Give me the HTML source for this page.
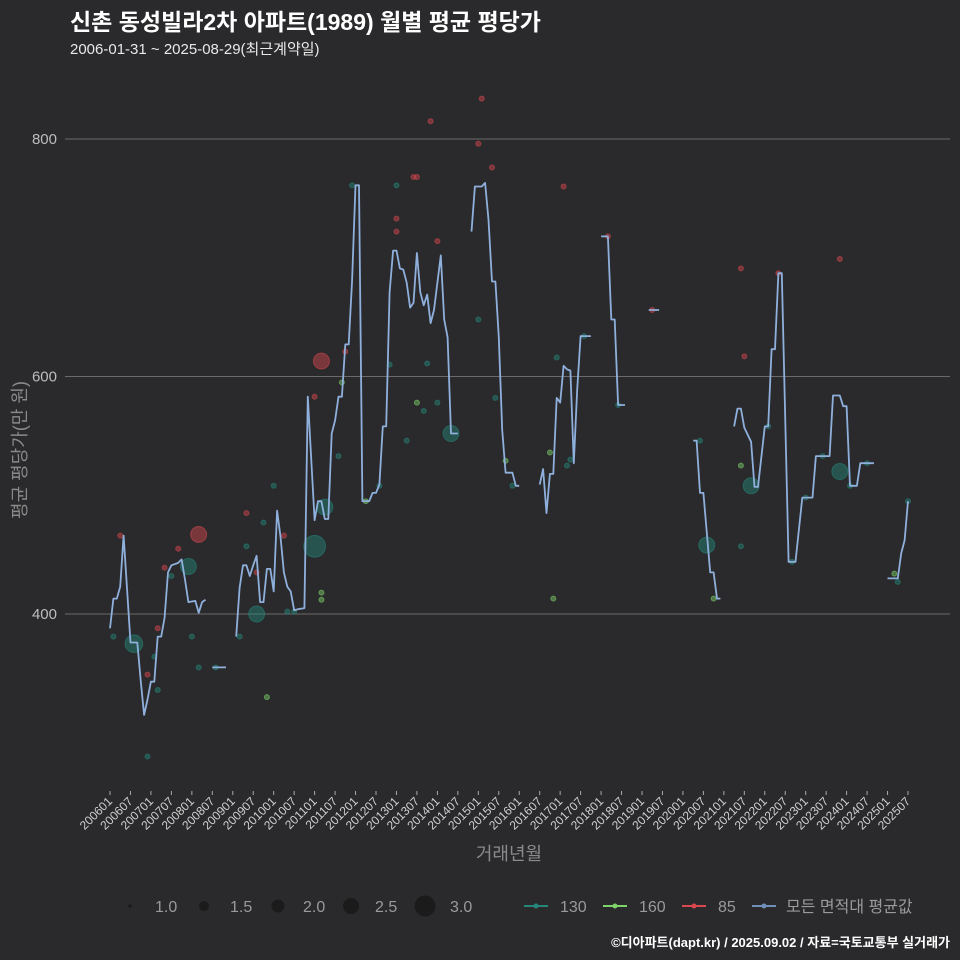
<!DOCTYPE html>
<html><head><meta charset="utf-8">
<style>
body{margin:0;background:#2a2a2c;position:relative;width:960px;height:960px;overflow:hidden;}
svg{display:block;font-family:"Liberation Sans","Noto Sans CJK KR",sans-serif;}
#ytitle{position:absolute;left:20px;top:450px;transform:translate(-50%,-50%) rotate(-90deg);white-space:nowrap;color:#8a8a8a;font-size:18px;font-family:"Liberation Sans","Noto Sans CJK KR",sans-serif;line-height:1;}
</style></head>
<body>
<svg id="chart" width="960" height="960" viewBox="0 0 960 960" xmlns="http://www.w3.org/2000/svg">
<rect width="960" height="960" fill="#2a2a2c"/>
<text x="70" y="30" fill="#ffffff" font-size="23" font-weight="bold">신촌 동성빌라2차 아파트(1989) 월별 평균 평당가</text>
<text x="70" y="54" fill="#e8e8e8" font-size="15">2006-01-31 ~ 2025-08-29(최근계약일)</text>
<g id="grid"></g>
<g id="yaxis"></g>
<g id="xaxis"></g>
<g id="points"></g>
<g id="line"></g>
<text x="509" y="860" text-anchor="middle" fill="#8a8a8a" font-size="18">거래년월</text>
<g font-size="16" fill="#9a9a9a">
  <circle cx="130" cy="906" r="1.8" fill="#1b1b1b"/><text x="155" y="912">1.0</text>
  <circle cx="204" cy="906" r="5" fill="#1b1b1b"/><text x="230" y="912">1.5</text>
  <circle cx="278" cy="906" r="6.5" fill="#1b1b1b"/><text x="303" y="912">2.0</text>
  <circle cx="351" cy="906" r="8" fill="#1b1b1b"/><text x="375" y="912">2.5</text>
  <circle cx="425" cy="906" r="10.5" fill="#1b1b1b"/><text x="450" y="912">3.0</text>
  <g><line x1="524" x2="548" y1="906" y2="906" stroke="#24877a" stroke-width="2"/><circle cx="536" cy="906" r="2.5" fill="#24877a"/><text x="560" y="912">130</text></g>
  <g><line x1="603" x2="627" y1="906" y2="906" stroke="#7ed36a" stroke-width="2"/><circle cx="615" cy="906" r="2.5" fill="#7ed36a"/><text x="639" y="912">160</text></g>
  <g><line x1="682" x2="706" y1="906" y2="906" stroke="#d9484f" stroke-width="2"/><circle cx="694" cy="906" r="2.5" fill="#d9484f"/><text x="718" y="912">85</text></g>
  <g><line x1="752" x2="776" y1="906" y2="906" stroke="#6f8fb8" stroke-width="2"/><circle cx="764" cy="906" r="2.5" fill="#6f8fb8"/><text x="786" y="912">모든 면적대 평균값</text></g>
</g>
<text x="950" y="947" text-anchor="end" fill="#ffffff" font-size="13" font-weight="bold">©디아파트(dapt.kr) / 2025.09.02 / 자료=국토교통부 실거래가</text>
</svg>
<div id="ytitle">평균 평당가(만 원)</div>
<script>
// Average line: month index from 2006-01, value (null = gap)
const lineMonths = [0,1,2,3,4,6,8,9,10,11,12,13,14,15,16,17,18,20,21,22,23,25,26,27,28,null,
 30,34,null,
 37,38,39,40,41,42,43,44,45,46,47,48,49,50,51,52,53,54,55,57,58,60,61,62,63,64,65,66,67,68,69,70,71,72,73,74,76,77,78,79,80,81,82,83,84,85,86,87,88,89,90,91,92,93,94,95,97,98,99,100,102,null,
 106,107,109,110,111,112,113,114,115,116,118,119,120,null,
 126,127,128,129,130,131,132,133,134,135,136,137,138,141,null,
 144,146,147,148,149,151,null,
 158,161,null,
 171,172,173,174,176,177,178,179,null,
 183,184,185,186,188,189,190,192,193,194,195,196,197,199,201,203,206,207,211,212,214,215,216,217,219,220,224,null,
 228,229,231,232,233,234];
const lineValues = [388,413,413,423,466,376,376,344,315,328,343,343,381,381,397,435,441,443,446,429,410,411,401,410,412,null,
 355,355,null,
 381,422,441,441,432,441,449,410,410,438,438,419,487,465,435,423,419,403,404,405,583,479,495,495,480,480,552,563,583,583,627,627,681,761,761,495,495,502,502,509,558,558,671,706,706,691,690,679,658,662,704,671,660,669,645,656,702,648,633,552,552,null,
 722,760,760,763,732,680,680,633,555,519,519,508,508,null,
 509,522,485,518,518,582,578,609,606,605,527,589,634,634,null,
 718,718,648,648,576,576,null,
 656,656,null,
 546,546,502,502,435,435,413,413,null,
 558,573,573,557,545,507,507,558,558,623,623,687,687,444,444,498,498,533,533,584,584,575,575,508,508,527,527,null,
 430,430,430,451,462,495];
// Scatter points by area group
const ptMonths = [1,3,7,11,13,14,11,14,16,18,20,23,24,26,26,31,38,40,40,43,45,43,46,51,48,52,54,60,62,62,60,62,63,68,67,69,71,75,79,82,84,84,84,87,89,90,90,92,93,94,96,96,100,108,108,109,112,113,116,118,129,130,131,133,134,135,139,146,149,159,173,175,177,185,186,185,185,188,193,196,200,204,209,214,214,217,222,230,231,234];
const ptValues = [381,466,375,280,364,336,349,388,439,432,455,440,381,467,355,355,381,457,485,400,477,435,330,466,508,402,402,457,412,418,583,613,490,595,533,621,761,495,508,610,733,722,761,546,768,768,578,571,611,815,578,714,552,648,796,834,776,582,529,508,536,413,616,760,525,530,634,718,576,656,546,458,413,691,617,525,457,508,558,687,444,498,533,699,520,508,527,434,427,495];
const ptGroups = ["130","85","130","130","130","130","85","85","85","130","85","130","130","85","130","130","130","130","85","130","130","85","160","85","130","130","130","130","160","160","85","85","130","160","130","85","130","160","130","130","85","85","130","130","85","85","160","130","130","85","130","85","130","130","85","85","85","130","160","130","160","160","130","85","130","130","130","85","130","85","130","130","160","85","85","160","130","130","130","85","130","130","130","85","130","130","130","160","130","130"];
const ptSizes = [1,1,2.5,1,1,1,1,1,1,1,1,2.3,1,2.3,1,1,1,1,1,2.3,1,1,1,1,1,1,1,3,1,1,1,2.3,2.3,1,1,1,1,1,1,1,1,1,1,1,1,1,1,1,1,1,1,1,2.3,1,1,1,1,1,1,1,1,1,1,1,1,1,1,1,1,1,1,2.3,1,1,1,1,1,2.3,1,1,1,1,1,1,2.3,1,1,1,1,1];
const yTicks = [400,600,800];

const NS = "http://www.w3.org/2000/svg";
function xScale(m){return 110 + m*3.4103;}
function yScale(v){return 614 - (v-400)*1.1875;}
const colors = {"130":"#24877a","160":"#7ed36a","85":"#d9484f"};
function mk(tag, attrs, parent){const e=document.createElementNS(NS,tag);for(const k in attrs)e.setAttribute(k,attrs[k]);parent.appendChild(e);return e;}

const grid=document.getElementById('grid'), yax=document.getElementById('yaxis');
yTicks.forEach(t=>{
  const l=mk('line',{x1:65,x2:950,y1:yScale(t),y2:yScale(t),stroke:'#6a6a6a','stroke-width':1},grid);
  
  
  const tx=mk('text',{x:57,y:yScale(t)+5,'text-anchor':'end',fill:'#bdbdbd','font-size':15},yax);
  tx.textContent=t;
  
  
});
const xax=document.getElementById('xaxis');
for(let m=0;m<=234;m+=6){
  const x=xScale(m);
  const tk=mk('line',{x1:x,x2:x,y1:791,y2:795,stroke:'#aaaaaa','stroke-width':1},xax);
  
  
  const yr=2006+Math.floor(m/12), mo=(m%12)+1;
  const lab=mk('text',{x:0,y:0,'text-anchor':'end',fill:'#d0d0d0','font-size':12,transform:`translate(${x+3},${802}) rotate(-45)`},xax);
  lab.textContent=yr+String(mo).padStart(2,'0');
  
  
}
const pg=document.getElementById('points');
ptMonths.forEach((m,i)=>{
  const c=colors[ptGroups[i]];
  const r=2.5+(ptSizes[i]-1)*4.2;
  const p=mk('circle',{cx:xScale(m),cy:yScale(ptValues[i]),r:r,fill:c,'fill-opacity':0.45,stroke:c,'stroke-opacity':0.55},pg);
  
  
});
const lg=document.getElementById('line');
let d='', pen=false;
lineMonths.forEach((m,i)=>{
  if(m===null||lineValues[i]===null){pen=false;return;}
  d+=(pen?'L':'M')+xScale(m).toFixed(1)+','+yScale(lineValues[i]).toFixed(1);
  pen=true;
});
const path=mk('path',{d:d,fill:'none',stroke:'#8fb0dc','stroke-width':1.8,'stroke-linejoin':'round'},lg);


</script>
</body></html>
